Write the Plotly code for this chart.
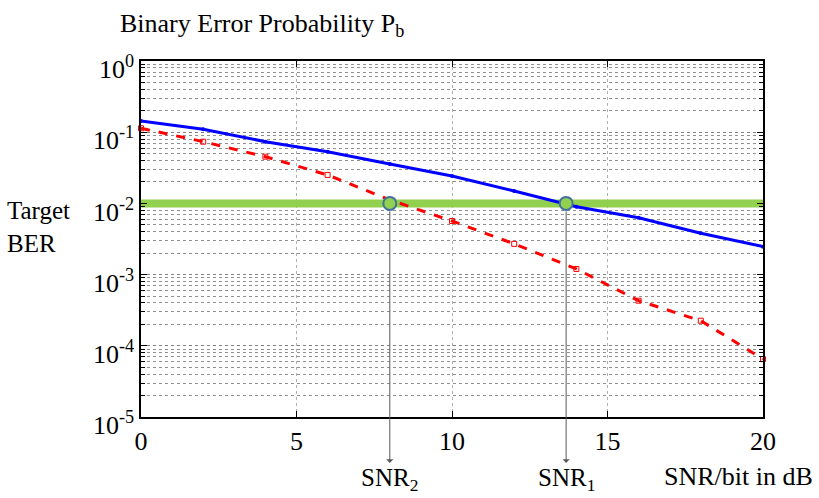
import plotly.graph_objects as go

snr_db = [0, 2, 4, 6, 8, 10, 12, 14, 16, 18, 20]
ber_blue = [0.144, 0.110, 0.0736, 0.0532, 0.0357, 0.0243, 0.0149, 0.0090, 0.0063, 0.0038, 0.00247]
ber_red = [0.1135, 0.0736, 0.0453, 0.0251, 0.0112, 0.00566, 0.0027, 0.0012, 0.00043, 0.000225, 0.000065]
target_ber = 1e-2
target_x = [0, 20]
snr_cross = [8.0, 13.67]
snr_cross_labels = ["SNR<sub>2</sub>", "SNR<sub>1</sub>"]
y_tick_vals = [1e0, 1e-1, 1e-2, 1e-3, 1e-4, 1e-5]
y_tick_text = ["10<sup>0</sup>", "10<sup>-1</sup>", "10<sup>-2</sup>", "10<sup>-3</sup>", "10<sup>-4</sup>", "10<sup>-5</sup>"]
x_tick_vals = [0, 5, 10, 15, 20]

FONT = "Liberation Serif"

minor_vals = []
for e in range(-5, 0):
    for m in range(2, 10):
        minor_vals.append(m * 10 ** e)

fig = go.Figure()
fig.add_trace(go.Scatter(x=target_x, y=[target_ber, target_ber], mode="lines",
                         line=dict(color="#92d050", width=8), hoverinfo="skip"))
fig.add_trace(go.Scatter(x=snr_db, y=ber_blue, mode="lines+markers",
                         line=dict(color="#0000ff", width=3),
                         marker=dict(symbol="circle", size=4, color="#0000ff"),
                         cliponaxis=False))
fig.add_trace(go.Scatter(x=snr_db, y=ber_red, mode="lines+markers",
                         line=dict(color="#ff0000", width=3, dash="dash"),
                         marker=dict(symbol="square-open", size=5, color="#ff0000"),
                         cliponaxis=False))
fig.add_trace(go.Scatter(x=snr_cross, y=[target_ber] * len(snr_cross), mode="markers",
                         marker=dict(symbol="circle", size=13, color="#92d050",
                                     line=dict(color="#41719c", width=2)),
                         cliponaxis=False))

for xv, lab in zip(snr_cross, snr_cross_labels):
    fig.add_annotation(x=xv, y=-0.129, xref="x", yref="y domain",
                       ax=0, ay=-260, axref="pixel", ayref="pixel",
                       showarrow=True, arrowhead=1, arrowsize=1.2, arrowwidth=1,
                       arrowcolor="#595959", startstandoff=7, text="")
    fig.add_annotation(x=xv, y=-0.175, xref="x", yref="y domain", showarrow=False,
                       text=lab, font=dict(family=FONT, size=25, color="black"),
                       yanchor="middle")

fig.add_annotation(x=0.96, y=-0.166, xref="paper", yref="paper", showarrow=False,
                   text="SNR/bit in dB", font=dict(family=FONT, size=26, color="black"),
                   xanchor="center", yanchor="middle")
fig.add_annotation(x=-0.037, y=1.101, xref="paper", yref="paper", showarrow=False,
                   text="Binary Error Probability P<sub>b</sub>",
                   font=dict(family=FONT, size=26, color="black"),
                   xanchor="left", yanchor="middle")
fig.add_annotation(x=-0.2187, y=0.534, xref="paper", yref="paper", showarrow=False,
                   text="Target<br>BER", align="left",
                   font=dict(family=FONT, size=25, color="black"),
                   xanchor="left", yanchor="middle")

fig.update_layout(
    width=819, height=498,
    margin=dict(l=141, r=56, t=61, b=81),
    paper_bgcolor="white", plot_bgcolor="white",
    showlegend=False,
    font=dict(family=FONT, size=26, color="black"),
    xaxis=dict(range=[0, 20], tickvals=x_tick_vals, ticks="inside", ticklen=6,
               tickcolor="black", showline=True, linecolor="black", linewidth=1.5,
               mirror="ticks", showgrid=True, gridcolor="#b0b0b0", griddash="dot",
               gridwidth=1, zeroline=False, tickfont=dict(family=FONT, size=26)),
    yaxis=dict(type="log", range=[-5, 0], tickvals=y_tick_vals, ticktext=y_tick_text,
               ticks="inside", ticklen=6, tickcolor="black", showline=True,
               linecolor="black", linewidth=1.5, mirror="ticks",
               showgrid=True, gridcolor="#808080", griddash="dot", gridwidth=1,
               zeroline=False, tickfont=dict(family=FONT, size=26),
               ticklabelshift=8,
               minor=dict(tickvals=minor_vals, ticks="inside", ticklen=4,
                          tickcolor="black", showgrid=True, gridcolor="#909090",
                          griddash="dot", gridwidth=1)),
)

fig.write_html("out.html", config={"displayModeBar": False},
               post_script="document.body.style.margin='0px';")
